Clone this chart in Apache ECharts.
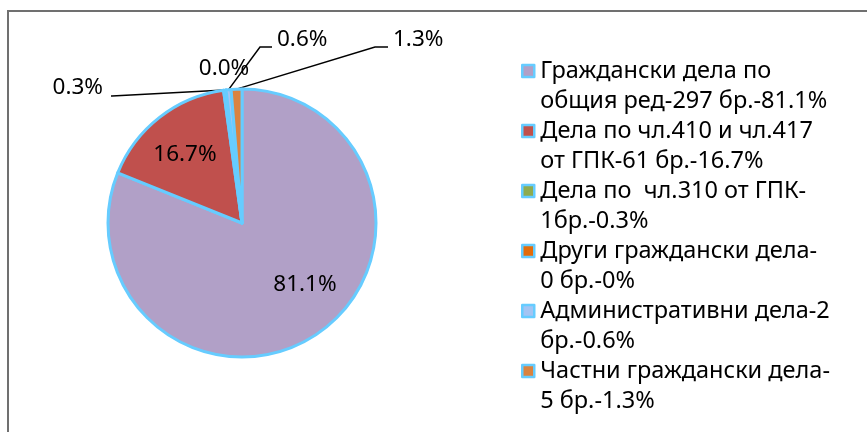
<!DOCTYPE html>
<html>
<head>
<meta charset="utf-8">
<script src="https://cdn.jsdelivr.net/npm/echarts@6/dist/echarts.min.js"></script>
<style>
html, body { margin: 0; padding: 0; background: #fff; }
#chart-pie { width: 867px; height: 432px; }
</style>
</head>
<body>
<div id="chart-pie"></div>
<script>
// данни
var names = [
    'Граждански дела по\nобщия ред-297 бр.-81.1%',
    'Дела по чл.410 и чл.417\nот ГПК-61 бр.-16.7%',
    'Дела по  чл.310 от ГПК-\n1бр.-0.3%',
    'Други граждански дела-\n0 бр.-0%',
    'Административни дела-2\nбр.-0.6%',
    'Частни граждански дела-\n5 бр.-1.3%'
];
var values = [81.1, 16.7, 0.3, 0, 0.6, 1.3];

var colors = ['#B1A0C7', '#C0504D', '#8EAB4F', '#E46C0A', '#A3C4F3', '#DA8340'];
var edgeColor = '#66CCFF';
var font = 'Noto Sans';

// позиции на етикетите спрямо центъра на кръга
var cx = 242, cy = 223;
var labelPos = [
    {x: 63, y: 62, align: 'center'},
    {x: -57, y: -68, align: 'center'},
    {x: -139, y: -135, align: 'right', line: [[-130, -127], [-131, -127]]},
    {x: -18, y: -154, align: 'center'},
    {x: 35, y: -183, align: 'left', line: [[18, -176], [30, -176]]},
    {x: 151, y: -183, align: 'left', line: [[133, -176], [146, -176]]}
];

var myChart = echarts.init(document.getElementById('chart-pie'));

var data = values.map(function (v, i) {
    return {
        value: v,
        name: names[i],
        labelLine: {show: !!labelPos[i].line}
    };
});

var option = {
    animation: false,
    color: colors,
    graphic: [
        {type: 'line', shape: {x1: 8, y1: 10, x2: 8, y2: 432}, style: {stroke: '#707070', lineWidth: 2}},
        {type: 'line', shape: {x1: 7, y1: 11, x2: 867, y2: 11}, style: {stroke: '#707070', lineWidth: 2}}
    ],
    legend: {
        orient: 'vertical',
        left: 516,
        top: 21,
        icon: 'rect',
        itemWidth: 12,
        itemHeight: 12,
        itemGap: -30,
        itemStyle: {borderColor: edgeColor, borderWidth: 2.5},
        selectedMode: false,
        data: names,
        // празен ред отгоре, за да е маркерът до първия ред
        formatter: function (name) {
            return '\n' + name;
        },
        textStyle: {
            fontFamily: font,
            fontSize: 23.5,
            color: '#000',
            lineHeight: 30,
            padding: [0, 0, 0, 1]
        }
    },
    series: [{
        type: 'pie',
        center: [cx, cy],
        radius: 134,
        startAngle: 90,
        clockwise: true,
        avoidLabelOverlap: false,
        emphasis: {disabled: true},
        itemStyle: {borderColor: edgeColor, borderWidth: 3},
        label: {
            show: true,
            position: 'outside',
            fontFamily: font,
            fontSize: 22.5,
            color: '#000',
            formatter: function (p) {
                return p.value.toFixed(1) + '%';
            }
        },
        labelLine: {
            lineStyle: {color: '#000', width: 1.5}
        },
        labelLayout: function (p) {
            var lp = labelPos[p.dataIndex];
            var res = {
                x: cx + lp.x,
                y: cy + lp.y,
                align: lp.align,
                verticalAlign: 'middle'
            };
            if (lp.line && p.labelLinePoints) {
                res.labelLinePoints = [
                    p.labelLinePoints[0],
                    [cx + lp.line[0][0], cy + lp.line[0][1]],
                    [cx + lp.line[1][0], cy + lp.line[1][1]]
                ];
            }
            return res;
        },
        data: data
    }]
};

myChart.setOption(option);
</script>
</body>
</html>
